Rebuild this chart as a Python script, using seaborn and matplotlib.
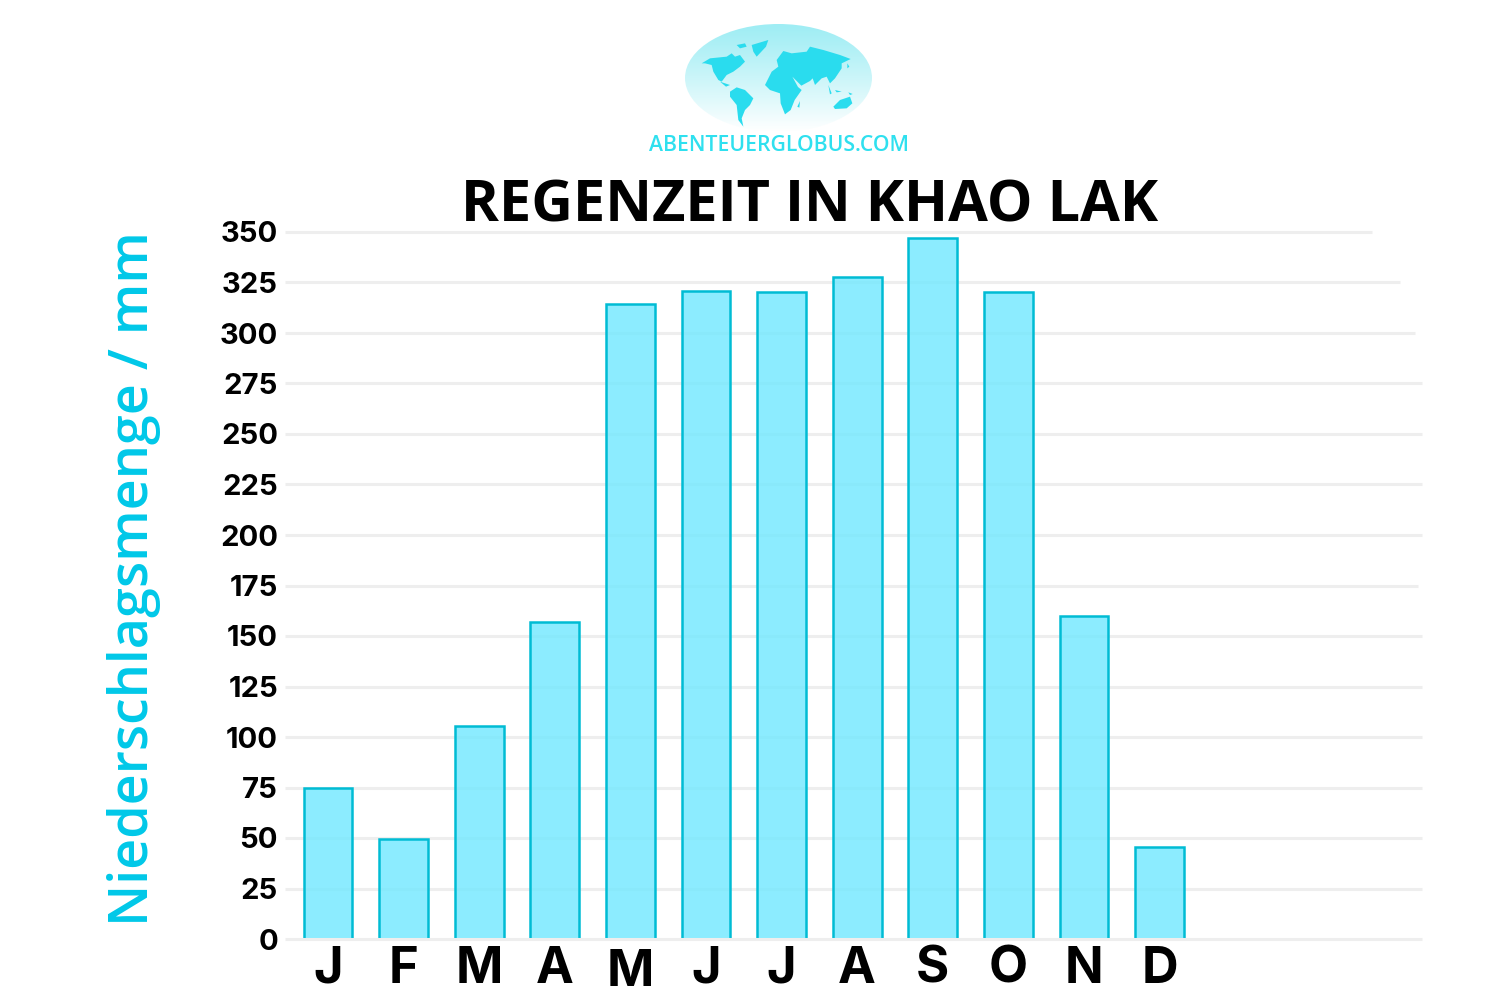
import numpy as np
import pandas as pd
import matplotlib.pyplot as plt
import seaborn as sns
from matplotlib.patches import Ellipse, Polygon

MONTHS = ['J', 'F', 'M', 'A', 'M', 'J', 'J', 'A', 'S', 'O', 'N', 'D']
RAINFALL = [75, 49.5, 105.5, 157, 314.5, 321, 320.5, 327.5, 347, 320.5, 160, 45.5]
Y_TICKS = [0, 25, 50, 75, 100, 125, 150, 175, 200, 225, 250, 275, 300, 325, 350]
# right end of every grid line in pixels, they are not all the same length
GRID_END = [1422, 1422, 1422, 1422, 1422, 1422, 1422, 1418, 1422, 1422, 1422, 1422, 1415, 1400, 1372]

W, H = 1500, 1005
LEFT, RIGHT, TOP, BOTTOM = 285, 1422, 232, 939
CYAN = '#00c8e8'

sns.set_theme(style='white')
plt.rcParams['font.family'] = ['Open Sans', 'DejaVu Sans']

WEST = [
    [(35, 100), (60, 85), (110, 80), (125, 70), (135, 80), (150, 75), (165, 95), (150, 110), (130, 125),
     (110, 135), (95, 155), (85, 150), (70, 125), (65, 105), (45, 100)],
    [(185, 45), (235, 30), (228, 50), (200, 80), (190, 65)],
    [(140, 45), (165, 40), (170, 50), (150, 55)],
    [(90, 155), (108, 170), (120, 165), (105, 160)],
    [(120, 185), (140, 172), (165, 180), (190, 205), (180, 225), (165, 240), (155, 265), (160, 290),
     (145, 270), (140, 225), (120, 200)],
]
EAST = [
    [(15, 150), (35, 110), (55, 95), (50, 75), (70, 48), (95, 55), (140, 50), (150, 35), (190, 45), (240, 60),
     (272, 72), (245, 85), (245, 100), (225, 130), (210, 145), (200, 125), (185, 130), (165, 150), (158, 130),
     (150, 138), (124, 152), (97, 125), (114, 156), (125, 165), (104, 195), (92, 225), (75, 238), (62, 205),
     (60, 175), (30, 165)],
    [(112, 215), (120, 198), (118, 218)],
    [(220, 215), (240, 195), (270, 185), (277, 205), (260, 220), (225, 222)],
    [(205, 150), (215, 175), (210, 178)],
    [(225, 165), (245, 170), (230, 172)],
    [(262, 85), (268, 95), (262, 100)],
    [(265, 172), (278, 177), (270, 180)],
]


def draw_logo(fig):
    la = fig.add_axes([0, 0, 1, 1], zorder=5)
    la.axis('off')
    la.patch.set_alpha(0)
    grad = np.linspace(0, 1, 200).reshape(-1, 1)
    rgb = np.zeros((200, 1, 4))
    rgb[..., :3] = [0.62, 0.93, 0.96]
    rgb[..., 3] = 1.0 - grad ** 1.1
    im = la.imshow(rgb, extent=(685, 872, 132, 24), aspect='auto', zorder=1)
    clip = Ellipse((778.5, 78), 187, 108, transform=la.transData, fc='none', ec='none')
    la.add_patch(clip)
    im.set_clip_path(clip)
    for shape in WEST:
        pts = [(690 + x / 3, 30 + y / 3) for x, y in shape]
        la.add_patch(Polygon(pts, closed=True, fc='#2adcee', ec='none', zorder=2))
    for shape in EAST:
        pts = [(760 + x / 3, 35 + y / 3) for x, y in shape]
        la.add_patch(Polygon(pts, closed=True, fc='#2adcee', ec='none', zorder=2))
    la.set_xlim(0, W)
    la.set_ylim(H, 0)
    la.text(779, 145, 'ABENTEUERGLOBUS.COM', color='#2fe0ef', fontsize=15.2, weight='semibold',
            ha='center', va='center', zorder=3)


fig = plt.figure(figsize=(15, 10.05), dpi=100)
ax = fig.add_axes([LEFT / W, 1 - BOTTOM / H, (RIGHT - LEFT) / W, (BOTTOM - TOP) / H])

df = pd.DataFrame({'slot': range(len(MONTHS)), 'rain': RAINFALL})
sns.barplot(data=df, x='slot', y='rain', width=0.645, color='#8beeff', saturation=1,
            edgecolor='#00bcd4', linewidth=1.8, zorder=3, ax=ax)
for bar in ax.patches:
    bar.set_facecolor((0.45, 0.91, 1.0, 0.82))

ax.set_xlim(-(328 - LEFT) / 75.6, (RIGHT - 328) / 75.6)
ax.set_ylim(0, 350)

for val, end in zip(Y_TICKS, GRID_END):
    ax.hlines(val, 0, (end - LEFT) / (RIGHT - LEFT), transform=ax.get_yaxis_transform(),
              color='#eeeeee', lw=2.2, zorder=5 if val == 0 else 1, clip_on=False)

ax.set_yticks(Y_TICKS)
ax.set_xticks(range(len(MONTHS)))
ax.set_xticklabels(MONTHS)
ax.tick_params(axis='y', length=0, pad=5, labelsize=21)
ax.tick_params(axis='x', length=0, pad=5, labelsize=36.5)
for lab in ax.get_xticklabels() + ax.get_yticklabels():
    lab.set_fontfamily(['Inter', 'DejaVu Sans'])
    lab.set_fontweight('bold')
    lab.set_color('black')
ax.xaxis.get_major_ticks()[4].set_pad(7)

ax.set_xlabel('')
ax.set_ylabel('Niederschlagsmenge / mm', color=CYAN, fontsize=38.8, weight='semibold')
ax.yaxis.set_label_coords((161 - LEFT) / (RIGHT - LEFT), (BOTTOM - 579) / (BOTTOM - TOP))
sns.despine(ax=ax, left=True, bottom=True)

fig.text(810 / W, 1 - 207 / H, 'REGENZEIT IN KHAO LAK', color='black', fontsize=41.5, weight='bold',
         ha='center', va='center')

draw_logo(fig)
fig.savefig('out.png', dpi=100, facecolor='white')
